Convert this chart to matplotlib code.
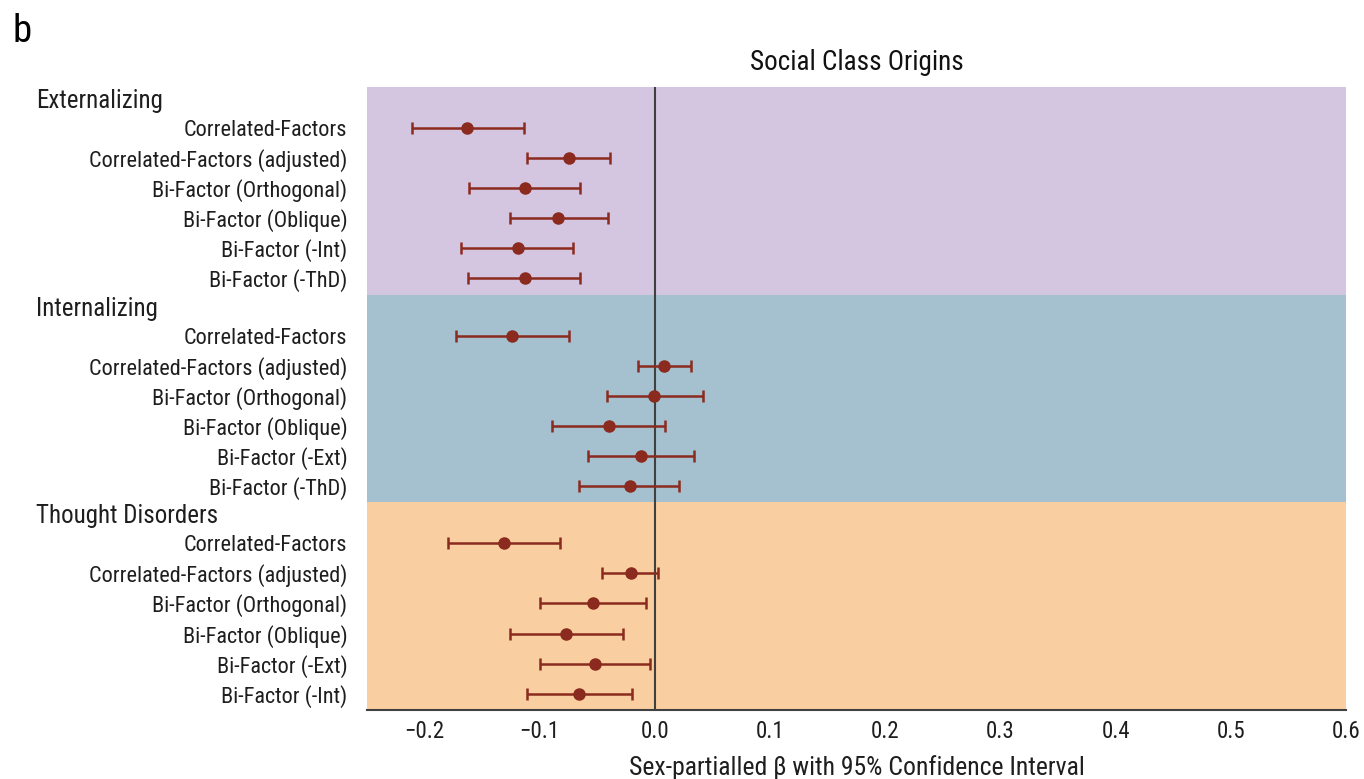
import numpy as np
import matplotlib.pyplot as plt
import matplotlib.transforms as mtransforms

plt.rcParams['font.family'] = ['Roboto Condensed', 'DejaVu Sans']
plt.rcParams['axes.unicode_minus'] = True

# Factor groups and the models estimated within each
groups = ['Externalizing', 'Internalizing', 'Thought Disorders']
models = [
    ['Correlated-Factors', 'Correlated-Factors (adjusted)', 'Bi-Factor (Orthogonal)',
     'Bi-Factor (Oblique)', 'Bi-Factor (-Int)', 'Bi-Factor (-ThD)'],
    ['Correlated-Factors', 'Correlated-Factors (adjusted)', 'Bi-Factor (Orthogonal)',
     'Bi-Factor (Oblique)', 'Bi-Factor (-Ext)', 'Bi-Factor (-ThD)'],
    ['Correlated-Factors', 'Correlated-Factors (adjusted)', 'Bi-Factor (Orthogonal)',
     'Bi-Factor (Oblique)', 'Bi-Factor (-Ext)', 'Bi-Factor (-Int)'],
]

# Sex-partialled beta estimates with 95% CI bounds
beta = [
    [-0.163, -0.075, -0.113, -0.084, -0.119, -0.113],
    [-0.124, 0.008, -0.001, -0.040, -0.012, -0.022],
    [-0.131, -0.021, -0.054, -0.077, -0.052, -0.066],
]
ci_low = [
    [-0.211, -0.111, -0.161, -0.126, -0.168, -0.162],
    [-0.173, -0.015, -0.042, -0.089, -0.058, -0.066],
    [-0.180, -0.046, -0.100, -0.126, -0.100, -0.111],
]
ci_high = [
    [-0.114, -0.039, -0.065, -0.041, -0.071, -0.065],
    [-0.075, 0.031, 0.042, 0.009, 0.034, 0.021],
    [-0.082, 0.003, -0.008, -0.028, -0.004, -0.020],
]

band_colors = ['#D4C5E0', '#A5C1CF', '#F9CFA1']
point_color = '#8B2A1E'
text_color = '#1e1e1e'

fig = plt.figure(figsize=(13.64, 7.79), dpi=100)
ax = fig.add_axes([0.269, 0.0886, 0.718, 0.7997])

band_h = 6.9
yticks, ylabels = [], []
label_tf = mtransforms.blended_transform_factory(fig.transFigure, ax.transData)
for g, name in enumerate(groups):
    top = g * band_h
    ax.axhspan(top, top + band_h, color=band_colors[g], lw=0, zorder=0)
    ax.text(36 / 1364, top + 0.47, name, transform=label_tf, ha='left', va='center',
            fontsize=18, color=text_color)
    ys = top + 1.36 + np.arange(len(models[g]))
    b = np.array(beta[g])
    err = [b - np.array(ci_low[g]), np.array(ci_high[g]) - b]
    ax.errorbar(b, ys, xerr=err, fmt='o', color=point_color, ms=8, elinewidth=1.8,
                capsize=4.5, capthick=1.8, zorder=3)
    yticks.extend(ys)
    ylabels.extend(models[g])

ax.axvline(0, color='#404040', lw=1.5, zorder=2)

ax.set_xlim(-0.25, 0.6)
ax.set_ylim(3 * band_h, 0)
ticks = np.arange(-0.2, 0.61, 0.1)
ax.set_xticks(ticks)
ax.set_xticklabels([f'{v:.1f}'.replace('-', '\u2212') for v in ticks])
ax.set_yticks(yticks)
ax.set_yticklabels(ylabels)
ax.tick_params(axis='y', length=0, pad=14, labelsize=16, labelcolor=text_color)
ax.tick_params(axis='x', length=0, pad=7, labelsize=16.5, labelcolor=text_color)

for s in ['top', 'left', 'right']:
    ax.spines[s].set_visible(False)
ax.spines['bottom'].set_color('#404040')
ax.spines['bottom'].set_linewidth(1.5)

ax.set_title('Social Class Origins', fontsize=19.5, pad=12, color='#111111')
ax.set_xlabel('Sex-partialled \u03b2 with 95% Confidence Interval', fontsize=18.5,
              labelpad=9, color=text_color)
fig.text(12 / 1364, 1 - 32 / 779, 'b', fontsize=28, ha='left', va='center')

fig.savefig('out.png', dpi=100)
